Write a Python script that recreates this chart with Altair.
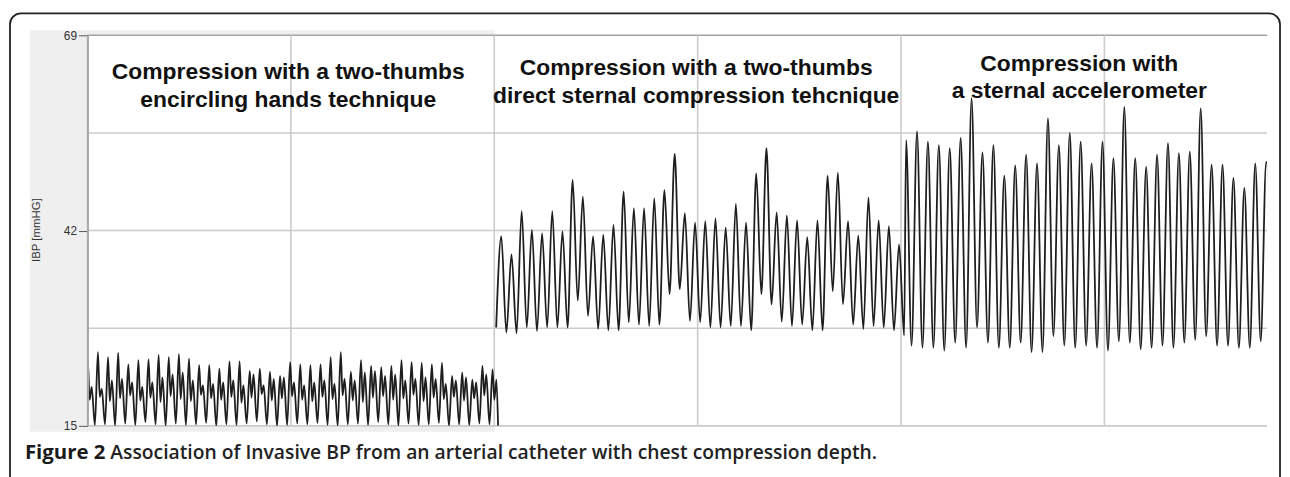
import altair as alt
import pandas as pd

# ---------------- data ----------------
y_ticks = [15, 42, 69]
y_grid = [15, 28.5, 42, 55.5, 69]
x_grid = [0, 20, 40, 60, 80, 100]

# segment 1: two-thumbs encircling hands (one main peak + secondary peak per cycle)
seg1_peak = [24.0, 25.2, 24.5, 25.1, 23.5, 24.1, 24.2, 24.8, 24.5, 24.9, 24.3,
             23.4, 23.4, 22.9, 23.9, 23.9, 22.6, 22.9, 22.5, 21.9, 23.8,
             23.5, 23.4, 23.5, 24.5, 25.2, 22.5, 24.1, 23.3, 23.1, 23.3,
             24.1, 23.8, 23.7, 23.5, 23.7, 21.9, 22.4, 21.4, 23.3, 22.8]
seg1_second = [20.4, 20.1, 21.3, 21.5, 21.0, 20.4, 21.0, 21.7, 22.1, 22.4, 21.3,
               20.6, 20.8, 21.0, 21.3, 20.6, 22.1, 20.6, 21.5, 21.7, 21.0,
               20.6, 21.0, 21.3, 20.8, 21.5, 21.3, 22.4, 22.6, 21.9, 22.1,
               21.3, 21.5, 21.7, 21.5, 20.8, 21.3, 21.7, 21.0, 22.1, 21.4]
seg1_notch = [18.6, 19.0, 18.4, 18.8, 19.2, 18.5, 18.9, 18.3, 19.1, 18.7, 18.4,
              19.3, 18.8, 18.6, 19.0, 18.2, 18.9, 19.4, 18.5, 18.8, 19.1,
              18.6, 18.4, 19.0, 18.7, 19.2, 18.5, 18.3, 18.9, 19.1, 18.6,
              18.8, 19.3, 18.4, 18.9, 18.7, 19.0, 18.5, 18.8, 19.2, 18.6]
seg1_trough = [15.4, 15.1, 15.2, 15.0, 15.3, 15.1, 15.5, 15.2, 15.0, 15.3, 15.1,
               15.2, 15.4, 15.0, 15.2, 15.1, 15.3, 15.6, 15.2, 15.0, 15.1,
               15.3, 15.2, 15.4, 15.1, 15.0, 15.2, 15.3, 15.1, 15.5, 15.2,
               15.0, 15.3, 15.1, 15.2, 15.4, 15.0, 15.2, 15.1, 15.3, 15.2, 15.0]

# segment 2: two-thumbs direct sternal compression
seg2_peak = [41.2, 38.7, 44.7, 42.1, 41.6, 44.7, 41.9, 49.0, 46.7, 41.2,
             41.4, 42.8, 47.4, 45.1, 45.1, 46.5, 47.6, 52.6, 44.4, 43.1,
             43.3, 43.7, 42.4, 45.7, 43.1, 49.9, 53.4, 44.5, 44.1, 43.4,
             41.1, 43.4, 49.6, 50.0, 43.3, 41.3, 46.6, 43.4, 42.6, 40.1]
seg2_trough = [28.6,
               27.9, 27.8, 28.6, 28.1, 28.6, 28.6, 28.6, 32.3, 30.2, 28.4,
               28.2, 28.2, 29.3, 29.0, 28.8, 29.0, 33.2, 33.9, 29.5, 29.3,
               28.6, 28.6, 28.8, 28.8, 28.2, 33.2, 31.8, 29.4, 28.8, 29.0,
               28.2, 28.2, 33.6, 31.8, 29.0, 28.4, 28.8, 28.6, 28.2, 27.5]

# segment 3: sternal accelerometer
seg3_peak = [54.5, 55.7, 54.3, 53.8, 53.4, 54.8, 60.3, 52.8, 53.8, 49.6, 51.0,
             52.5, 51.3, 57.5, 53.8, 55.5, 54.3,
             51.3, 54.3, 52.0, 59.1, 52.0, 50.8, 52.5, 54.1, 52.7, 52.9,
             58.9, 51.1, 51.1, 49.3, 47.9, 51.3, 51.5]
seg3_trough = [26.1, 25.8, 25.8, 25.4, 26.5, 25.8, 28.6, 26.5, 25.8, 25.8, 26.5,
               25.2, 25.2, 27.4, 26.1, 25.8,
               26.1, 25.8, 25.4, 26.7, 26.5, 25.6, 25.8, 26.1, 25.8, 26.5,
               26.9, 27.4, 26.1, 26.1, 25.8, 25.8, 26.7]
seg3_end = 44.0

# timing (time units of the recording, first peak and cycle length per segment)
seg_first_peak = [0.03, 40.69, 80.5]
seg_period = [0.995, 1.003, 1.073]
T_MAX = 116.0

titles = [
    ["Compression with a two-thumbs", "encircling hands technique"],
    ["Compression with a two-thumbs", "direct sternal compression tehcnique"],
    ["Compression with", "a sternal accelerometer"],
]
y_title = "IBP [mmHG]"
caption_bold = "Figure 2"
caption_rest = "Association of Invasive BP from an arterial catheter with chest compression depth."

# ---------------- build waveform table ----------------
rows = []
P, t0 = seg_period[0], seg_first_peak[0]
for i in range(len(seg1_peak)):
    tp = t0 + i * P
    rows.append({"t": tp - 0.3 * P, "bp": seg1_trough[i], "seg": "a"})
    rows.append({"t": tp, "bp": seg1_peak[i], "seg": "a"})
    rows.append({"t": tp + 0.18 * P, "bp": seg1_notch[i], "seg": "a"})
    rows.append({"t": tp + 0.38 * P, "bp": seg1_second[i], "seg": "a"})
rows.append({"t": tp + 0.55 * P, "bp": seg1_trough[-1], "seg": "a"})

P, t0 = seg_period[1], seg_first_peak[1]
rows.append({"t": t0 - 0.5 * P, "bp": seg2_trough[0], "seg": "b"})
for i in range(len(seg2_peak)):
    tp = t0 + i * P
    rows.append({"t": tp, "bp": seg2_peak[i], "seg": "b"})
    rows.append({"t": tp + 0.5 * P, "bp": seg2_trough[i + 1], "seg": "b"})

P, t0 = seg_period[2], seg_first_peak[2]
for i in range(len(seg3_peak)):
    tp = t0 + i * P
    rows.append({"t": tp, "bp": seg3_peak[i], "seg": "b"})
    if i < len(seg3_trough):
        rows.append({"t": tp + 0.5 * P, "bp": seg3_trough[i], "seg": "b"})
rows.append({"t": tp + 0.4 * P, "bp": seg3_end, "seg": "b"})

wave = pd.DataFrame(rows)
ygrid_df = pd.DataFrame({"v": y_grid})
xgrid_df = pd.DataFrame({"v": x_grid})
one = pd.DataFrame({"k": [0]})

W, H = 1187, 393
xscale = alt.Scale(domain=[0, T_MAX], nice=False, zero=False)
yscale = alt.Scale(domain=[15, 69], nice=False, zero=False)
yaxis = alt.Axis(values=y_ticks, grid=False, domain=True, domainColor="#a9a9a9",
                 domainWidth=2, ticks=True, tickColor="#555555", tickSize=9,
                 tickWidth=1, labelFont="Liberation Sans", labelFontSize=12,
                 labelColor="#333333", labelPadding=2, title=None, zindex=1)

border = alt.Chart(one).mark_rect(fill="#ffffff", stroke="#222222", strokeWidth=1.8,
                                  cornerRadius=11).encode(
    x=alt.value(-78), x2=alt.value(1200), y=alt.value(-22), y2=alt.value(490))
frame = alt.Chart(one).mark_rect(fill="#efefef").encode(
    x=alt.value(-58), x2=alt.value(410), y=alt.value(-5), y2=alt.value(399))
inner = alt.Chart(one).mark_rect(fill="#ffffff").encode(
    x=alt.value(0), x2=alt.value(410), y=alt.value(0), y2=alt.value(H))

hgrid = alt.Chart(ygrid_df).mark_rule(strokeWidth=1.6).encode(
    y=alt.Y("v:Q", scale=yscale, axis=yaxis),
    color=alt.condition(alt.datum.v == 69, alt.value("#a3a3a3"), alt.value("#cbcbcb")))
vgrid = alt.Chart(xgrid_df).mark_rule(strokeWidth=1.6, color="#cbcbcb").encode(
    x=alt.X("v:Q", scale=xscale, axis=None))

line = alt.Chart(wave).mark_line(color="#1e1e1e", strokeWidth=1.8,
                                 interpolate="monotone", clip=True).encode(
    x=alt.X("t:Q", scale=xscale, axis=None),
    y=alt.Y("bp:Q", scale=yscale, axis=yaxis),
    detail="seg:N",
    order="t:Q")

text_layers = []
title_pos = [(202, 44.3, 72.0), (612.5, 40.0, 67.7), (998, 36.0, 63.3)]
for (lines, (cx, y1, y2)) in zip(titles, title_pos):
    for txt, yy in zip(lines, (y1, y2)):
        text_layers.append(
            alt.Chart(one).mark_text(text=txt, font="Liberation Sans", fontSize=23,
                                     fontWeight="bold", color="#111111",
                                     align="center", baseline="alphabetic").encode(
                x=alt.value(cx), y=alt.value(yy)))

ylabel = alt.Chart(one).mark_text(text=y_title, font="Liberation Sans", fontSize=11.5,
                                  color="#333333", angle=270, align="center",
                                  baseline="middle").encode(
    x=alt.value(-51), y=alt.value(196))
cap1 = alt.Chart(one).mark_text(text=caption_bold, font="Open Sans", fontSize=20.5,
                                fontWeight="bold", color="#1a1a1a", align="left",
                                baseline="alphabetic").encode(
    x=alt.value(-63), y=alt.value(426))
cap2 = alt.Chart(one).mark_text(text=caption_rest, font="Open Sans", fontSize=19.4,
                                fontWeight=600, color="#222222", align="left",
                                baseline="alphabetic").encode(
    x=alt.value(23), y=alt.value(426))

chart = alt.layer(border, frame, inner, hgrid, vgrid, line, *text_layers,
                  ylabel, cap1, cap2).properties(
    width=W, height=H,
    autosize=alt.AutoSizeParams(type="none"),
    padding={"left": 80, "top": 26, "right": 15, "bottom": 50},
    background="#ffffff",
).configure_view(stroke=None)

chart.save("out.html", embed_options={"renderer": "svg", "actions": False})
